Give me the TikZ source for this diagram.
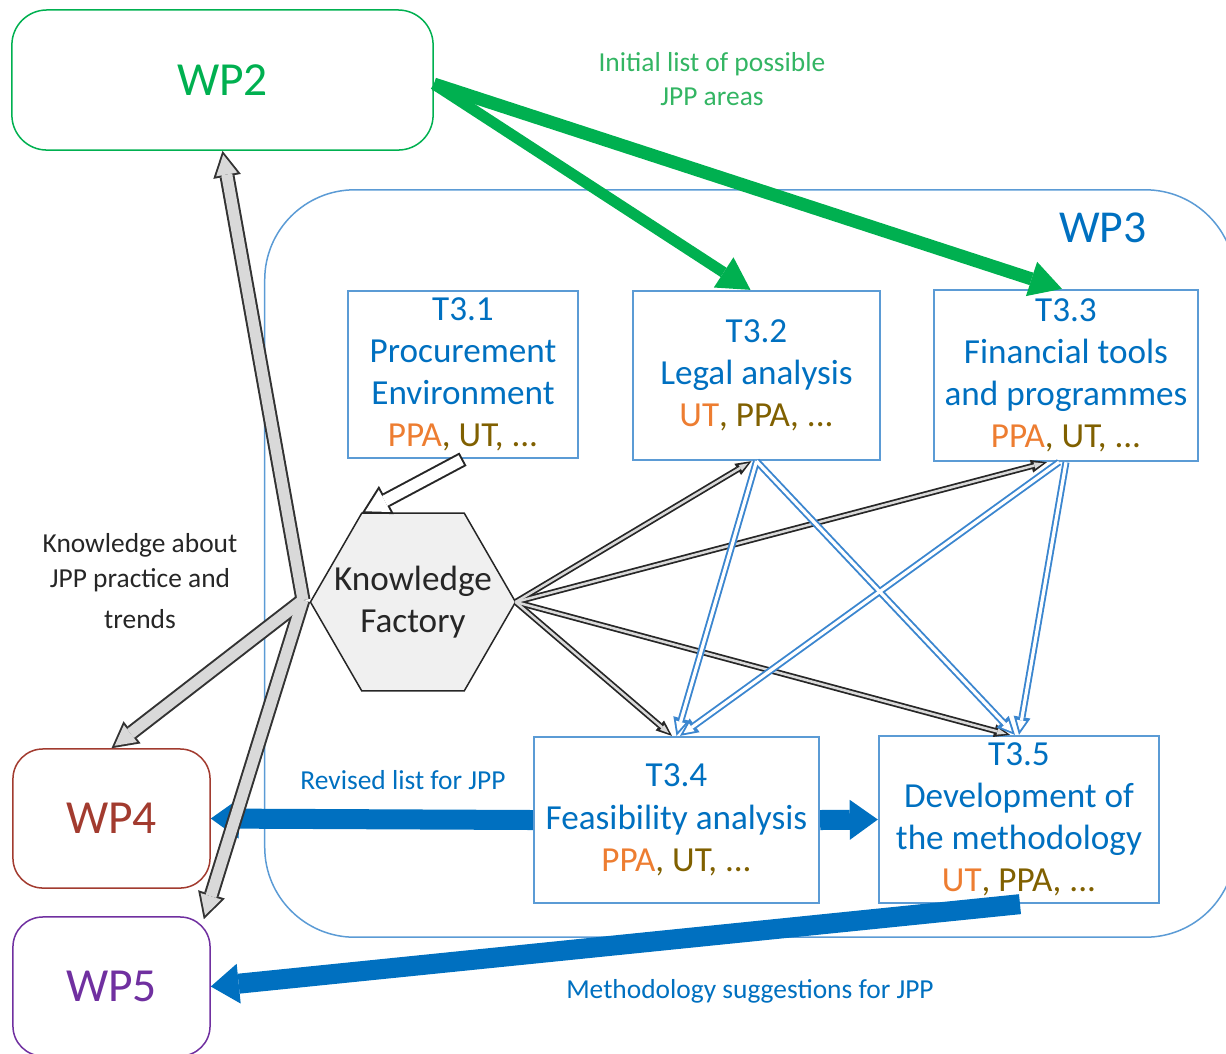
\documentclass[tikz,border=0pt]{standalone}
\usepackage{fontspec}
\setmainfont{Carlito}
\usetikzlibrary{arrows.meta,shapes.geometric}
\definecolor{wpgreen}{HTML}{00B050}
\definecolor{lgreen}{HTML}{33B563}
\definecolor{tblue}{HTML}{0070C0}
\definecolor{boxblue}{HTML}{5B9BD5}
\definecolor{arrblue}{HTML}{3B86CF}
\definecolor{orng}{HTML}{ED7D31}
\definecolor{olv}{HTML}{806000}
\definecolor{wpred}{HTML}{A23B2F}
\definecolor{wppurple}{HTML}{7030A0}
\newcommand\who[2]{\textcolor{orng}{#1}\textcolor{olv}{, #2, ...}}
\begin{document}
\begin{tikzpicture}[x=0.01cm,y=-0.01cm,line cap=butt,line join=miter,font=\fontsize{10pt}{12pt}\selectfont]
 \tikzset{
  wpbox/.style={draw=#1,text=#1,line width=0.015cm,rounded corners=0.3cm,inner sep=0pt,font=\fontsize{13.5pt}{16pt}\selectfont},
  tbox/.style={draw=boxblue,text=tblue,line width=0.022cm,inner sep=0pt,align=center},
  lbl/.style={align=center,inner sep=0pt,font=\fontsize{7.8pt}{9.7pt}\selectfont},
  fatblue/.style={draw=tblue,line width=0.2cm,-{Triangle[length=0.28cm,width=0.4cm,line width=0pt]}},
  fatgreen/.style={draw=wpgreen,-{Triangle[length=0.32cm,width=0.36cm,line width=0pt]}},
  greyrim/.style={draw=black!80,line width=0.15cm,-{Triangle[length=0.26cm,width=0.28cm,line width=0pt]}},
  greycore/.style={draw=black!15,line width=0.11cm,shorten >=0.04cm,-{Triangle[length=0.2cm,width=0.215cm,line width=0pt]}},
  kfrim/.style={draw=black!85,line width=0.06cm,-{Triangle[length=0.16cm,width=0.13cm,line width=0pt]}},
  kfcore/.style={draw=black!15,line width=0.025cm,shorten >=0.04cm,-{Triangle[length=0.09cm,width=0.065cm,line width=0pt]}},
  bluerim/.style={draw=arrblue,line width=0.07cm,-{Triangle[length=0.18cm,width=0.17cm,line width=0pt]}},
  bluecore/.style={draw=white,line width=0.032cm,shorten >=0.045cm,-{Triangle[length=0.1cm,width=0.095cm,line width=0pt]}},
  whiterim/.style={draw=black!85,line width=0.15cm,-{Triangle[length=0.28cm,width=0.32cm,line width=0pt]}},
  whitecore/.style={draw=white,line width=0.11cm,shorten >=0.04cm,shorten <=0.02cm,-{Triangle[length=0.22cm,width=0.25cm,line width=0pt]}}
 }
 \useasboundingbox (0,0) rectangle (1226,1053);
 \clip (0,0) rectangle (1226,1053);
 \node[draw=boxblue,line width=0.015cm,rounded corners=0.9cm,minimum width=9.7cm,minimum height=7.47cm] (wp3) at (750,563.5) {};
 \node[text=tblue,font=\fontsize{13pt}{16pt}\selectfont] (wp3lbl) at (1103,228) {WP3};
 \node[wpbox=wpgreen,rounded corners=0.35cm,minimum width=4.21cm,minimum height=1.4cm] (wp2) at (222.5,80) {WP2};
 \node[wpbox=wpred,minimum width=1.97cm,minimum height=1.39cm] (wp4) at (111.5,818.5) {WP4};
 \node[wpbox=wppurple,minimum width=1.97cm,minimum height=1.39cm] (wp5) at (111.5,986.5) {WP5};
 \node[tbox,minimum width=2.3cm,minimum height=1.67cm] (t31) at (463,374.5) {T3.1\\Procurement\\Environment\\\who{PPA}{UT}};
 \node[tbox,minimum width=2.47cm,minimum height=1.69cm] (t32) at (756.5,375.5) {T3.2\\Legal analysis\\\who{UT}{PPA}};
 \node[tbox,minimum width=2.64cm,minimum height=1.71cm] (t33) at (1066,375.5) {T3.3\\Financial tools\\and programmes\\\who{PPA}{UT}};
 \node[tbox,minimum width=2.85cm,minimum height=1.66cm] (t34) at (676.5,820) {T3.4\\Feasibility analysis\\\who{PPA}{UT}};
 \node[tbox,minimum width=2.8cm,minimum height=1.67cm] (t35) at (1019,819.5) {T3.5\\Development of\\the methodology\\\who{UT}{PPA}};
 \node[regular polygon,regular polygon sides=6,minimum size=2.05cm,inner sep=0pt,outer sep=0pt,draw=black!85,line width=0.015cm,fill=black!6] (kf) at (413,602) {};
 \node[align=center,text=black!85] (kflbl) at (kf.center) {Knowledge\\Factory};
 \node[lbl,text=lgreen] (initlbl) at (712,79) {Initial list of possible\\JPP areas};
 \node[lbl,text=tblue] (revlbl) at (403,780) {Revised list for JPP};
 \node[lbl,text=tblue] (methlbl) at (750,991) {Methodology suggestions for JPP};
 \node[lbl,text=black!85,font=\fontsize{7.8pt}{10pt}\selectfont] (knowlbl) at (140,581) {Knowledge about\\JPP practice and\\[1.7pt]trends};
 \coordinate (j) at (303,600);
 \coordinate (w5) at ([xshift=-0.07cm,yshift=-0.03cm]wp5.north east);
 \coordinate (k2) at ([xshift=-0.05cm]t32.south);
 \coordinate (k3) at ([xshift=-0.19cm]t33.south);
 \coordinate (k4) at ([xshift=-0.045cm]t34.north);
 \coordinate (k5) at ([xshift=-0.09cm]t35.north);
 \coordinate (b3) at ([xshift=-0.07cm]t33.south);
 \coordinate (b4) at ([xshift=0.035cm]t34.north);
 \coordinate (b5) at ([xshift=-0.04cm]t35.north);
 \foreach \k in {k2,k3,k4,k5} \draw[kfrim] (kf.east) -- (\k);
 \foreach \k in {k2,k3,k4,k5} \draw[kfcore] (kf.east) -- (\k);
 \foreach \s/\e in {t32.south/t34.north,t32.south/b5,b3/b4,t33.south/t35.north} \draw[bluerim] (\s) -- (\e);
 \foreach \s/\e in {t32.south/t34.north,t32.south/b5,b3/b4,t33.south/t35.north} \draw[bluecore] (\s) -- (\e);
 \draw[whiterim] (t31.south) -- (kf.120);
 \draw[whitecore] (t31.south) -- (kf.120);
 \draw[fatgreen,line width=0.11cm] ([yshift=-0.04cm]wp2.east) -- ([xshift=-0.06cm]t32.north);
 \draw[fatgreen,line width=0.13cm] ([yshift=-0.04cm]wp2.east) -- ([xshift=-0.04cm]t33.north);
 \draw[fatblue] (t34.west) -- (wp4.east);
 \draw[fatblue] (t34.east) -- (t35.west);
 \draw[fatblue] ([xshift=0.01cm]t35.south) -- (wp5.east);
 \foreach \e in {wp2.south,wp4.north,w5} \draw[greyrim] (j) -- (\e);
 \foreach \e in {wp2.south,wp4.north,w5} \draw[greycore] (j) -- (\e);
\end{tikzpicture}
\end{document}
